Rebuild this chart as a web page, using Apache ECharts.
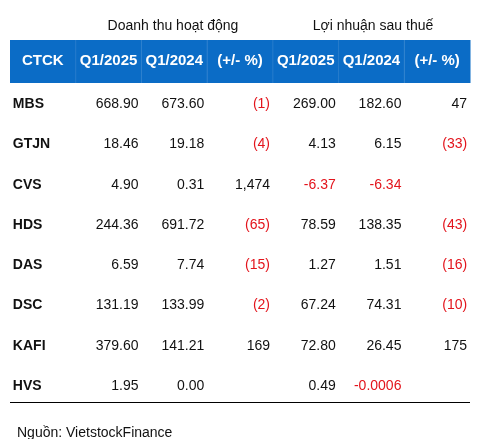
<!DOCTYPE html>
<html><head><meta charset="utf-8">
<script src="https://cdn.jsdelivr.net/npm/echarts@6/dist/echarts.min.js"></script>
<style>html,body{margin:0;padding:0;background:#fff}#c{width:477px;height:439px}</style>
</head><body><div id="c"></div>
<script>
const columns = ['CTCK','Q1/2025','Q1/2024','(+/- %)','Q1/2025','Q1/2024','(+/- %)'];
const companies = ['MBS','GTJN','CVS','HDS','DAS','DSC','KAFI','HVS'];
const revenue2025 = ['668.90','18.46','4.90','244.36','6.59','131.19','379.60','1.95'];
const revenue2024 = ['673.60','19.18','0.31','691.72','7.74','133.99','141.21','0.00'];
const revenueChange = ['(1)','(4)','1,474','(65)','(15)','(2)','169',''];
const profit2025 = ['269.00','4.13','-6.37','78.59','1.27','67.24','72.80','0.49'];
const profit2024 = ['182.60','6.15','-6.34','138.35','1.51','74.31','26.45','-0.0006'];
const profitChange = ['47','(33)','','(43)','(16)','(10)','175',''];

const rowsCat = ['header'].concat(companies);
const colsData = [companies, revenue2025, revenue2024, revenueChange, profit2025, profit2024, profitChange];
const cells = [];
for (let c = 0; c < columns.length; c++) {
  cells.push([c, 0, columns[c]]);
  for (let r = 0; r < companies.length; r++) cells.push([c, r + 1, colsData[c][r]]);
}
const chart = echarts.init(document.getElementById('c'));
chart.setOption({
  animation: false,
  title: [
    {text: 'Doanh thu hoạt động', left: 168, top: 14, textAlign: 'center',
     textStyle: {fontFamily: 'Liberation Sans', fontSize: 14, fontWeight: 'normal', color: '#111'}},
    {text: 'Lợi nhuận sau thuế', left: 368, top: 14, textAlign: 'center',
     textStyle: {fontFamily: 'Liberation Sans', fontSize: 14, fontWeight: 'normal', color: '#111'}},
    {text: 'Nguồn: VietstockFinance', left: 12, top: 421,
     textStyle: {fontFamily: 'Liberation Sans', fontSize: 14, fontWeight: 'normal', color: '#111'}}
  ],
  grid: {left: 10, right: 7, top: 40, bottom: 37},
  xAxis: {type: 'category', data: columns.map((c, i) => i), show: false},
  yAxis: {type: 'category', data: rowsCat, inverse: true, show: false},
  series: [{
    type: 'custom',
    data: cells,
    renderItem: function (params, api) {
      const c = api.value(0), r = api.value(1), txt = cells[params.dataIndex][2];
      const p = api.coord([c, r]);
      const sz = api.size([1, 1]);
      const children = [];
      if (r === 0) {
        children.push({type: 'rect', shape: {x: p[0] - sz[0] / 2, y: p[1] - sz[1] / 2, width: sz[0] + 0.5, height: 43},
          style: {fill: '#0b6cc6'}});
        if (c > 0) children.push({type: 'line', shape: {x1: p[0] - sz[0] / 2, y1: p[1] - sz[1] / 2, x2: p[0] - sz[0] / 2, y2: p[1] - sz[1] / 2 + 43},
          style: {stroke: 'rgba(255,255,255,0.12)', lineWidth: 1}});
        children.push({type: 'text', style: {text: txt, x: p[0], y: p[1] + 1, align: 'center', verticalAlign: 'middle',
          fill: '#fff', font: 'bold 15px "Liberation Sans"'}});
      } else {
        const red = txt.charAt(0) === '(' || txt.charAt(0) === '-';
        const isName = c === 0;
        children.push({type: 'text', style: {text: txt, x: isName ? p[0] - 30 : p[0] + 30, y: p[1] + 4,
          align: isName ? 'left' : 'right', verticalAlign: 'middle',
          fill: red ? '#e3141c' : '#111', font: (isName ? 'bold ' : '') + '14px "Liberation Sans"'}});
        if (r === companies.length && c === 0) children.push({type: 'line',
          shape: {x1: p[0] - sz[0] / 2, y1: Math.round(p[1] + sz[1] / 2) + 0.5, x2: p[0] - sz[0] / 2 + sz[0] * columns.length, y2: Math.round(p[1] + sz[1] / 2) + 0.5},
          style: {stroke: '#000', lineWidth: 1}});
      }
      return {type: 'group', children: children};
    }
  }]
});
</script></body></html>
